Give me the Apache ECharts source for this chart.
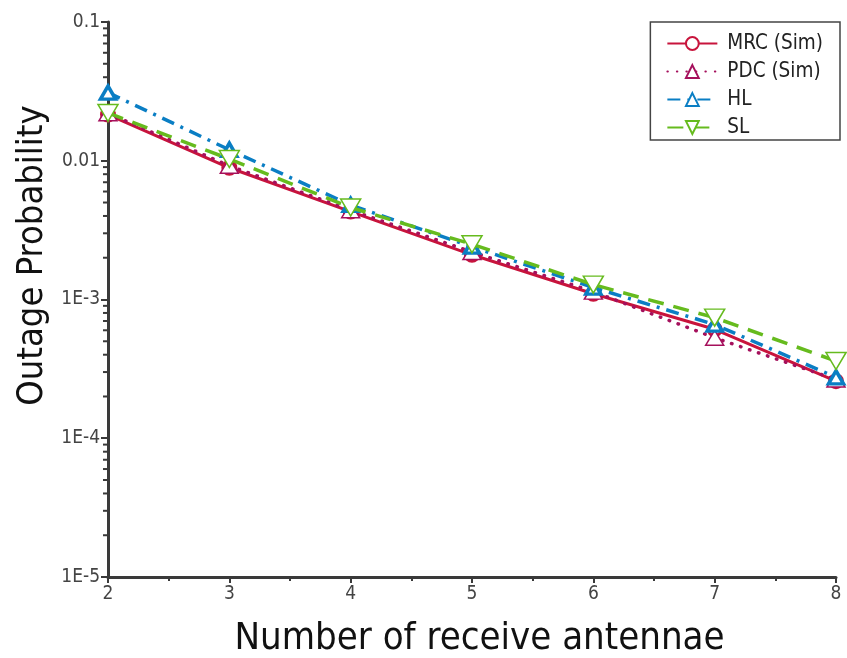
<!DOCTYPE html>
<html>
<head>
<meta charset="utf-8">
<script src="https://cdn.jsdelivr.net/npm/echarts@6/dist/echarts.min.js"></script>
<style>
  html, body { margin: 0; padding: 0; background: #fff; }
  #chart { width: 847px; height: 658px; }
</style>
</head>
<body>
<div id="chart"></div>
<script>
// Number of receive antennae
const antennas = [2, 3, 4, 5, 6, 7, 8];

// Outage probability per scheme
const mrcSim = [0.0215, 0.0089, 0.0043, 0.0021, 0.00110, 0.00061, 0.000258];
const pdcSim = [0.0220, 0.0092, 0.0044, 0.0022, 0.00114, 0.00053, 0.000265];
const hlBound = [0.0310, 0.0120, 0.0048, 0.0024, 0.00122, 0.00066, 0.000275];
const slBound = [0.0221, 0.0103, 0.0046, 0.00250, 0.00128, 0.00074, 0.000360];

const seriesNames = ['MRC (Sim)', 'PDC (Sim)', 'HL', 'SL'];

const FONT = "'DejaVu Sans Condensed', 'Liberation Sans', sans-serif";
const AXIS_COLOR = '#3a3a3a';

function pairs(ys) {
  return antennas.map((x, i) => [x, ys[i]]);
}

const chart = echarts.init(document.getElementById('chart'), null, { renderer: 'canvas' });

const option = {
  animation: false,
  backgroundColor: '#fff',
  grid: { left: 108, right: 11, top: 22, bottom: 81, containLabel: false, outerBoundsMode: 'none' },
  legend: {
    orient: 'vertical',
    right: 7,
    top: 22,
    itemWidth: 50,
    itemHeight: 16,
    itemGap: 7,
    padding: [11, 17, 2, 16],
    borderColor: '#444',
    borderWidth: 1.5,
    backgroundColor: '#fff',
    textStyle: { fontFamily: FONT, fontSize: 20.5, lineHeight: 19, color: '#222', padding: [0, 0, 0, 5] },
    data: seriesNames
  },
  xAxis: {
    type: 'value',
    min: 2,
    max: 8,
    interval: 1,
    name: 'Number of receive antennae',
    nameLocation: 'middle',
    nameGap: 43,
    nameTextStyle: { fontFamily: FONT, fontSize: 38, color: '#111', padding: [0, 0, 0, 15] },
    axisLine: { onZero: false, lineStyle: { color: AXIS_COLOR, width: 3 } },
    axisTick: { inside: false, length: 6, lineStyle: { color: AXIS_COLOR, width: 2 } },
    minorTick: { show: true, splitNumber: 2, length: 4, lineStyle: { color: AXIS_COLOR, width: 2 } },
    axisLabel: { fontFamily: FONT, fontSize: 19, color: '#444', margin: 8 },
    splitLine: { show: false }
  },
  yAxis: {
    type: 'log',
    logBase: 10,
    min: 1e-5,
    max: 0.1,
    name: 'Outage Probability',
    nameLocation: 'middle',
    nameGap: 54,
    nameTextStyle: { fontFamily: FONT, fontSize: 36, color: '#111', padding: [0, 0, 0, 88] },
    axisLine: { lineStyle: { color: AXIS_COLOR, width: 3 } },
    axisTick: { inside: false, length: 7, lineStyle: { color: AXIS_COLOR, width: 2 } },
    axisLabel: {
      fontFamily: FONT, fontSize: 19, color: '#444', margin: 8,
      formatter: function (v) {
        const e = Math.round(Math.log10(v));
        if (e === -1) return '0.1';
        if (e === -2) return '0.01';
        return '1E' + e;
      }
    },
    splitLine: { show: false }
  },
  series: [
    {
      name: 'MRC (Sim)',
      type: 'line',
      data: pairs(mrcSim),
      symbol: 'circle',
      symbolSize: 13,
      lineStyle: { color: '#c8143c', width: 3 },
      itemStyle: { color: '#fff', borderColor: '#c8143c', borderWidth: 3 },
      z: 2
    },
    {
      name: 'PDC (Sim)',
      type: 'line',
      data: pairs(pdcSim),
      symbol: 'triangle',
      symbolSize: [18, 15],
      lineStyle: { color: '#a5105c', width: 3.5, type: [0.5, 9], cap: 'round' },
      itemStyle: { color: '#fff', borderColor: '#a5105c', borderWidth: 1.5 },
      z: 3
    },
    {
      name: 'HL',
      type: 'line',
      data: pairs(hlBound),
      symbol: 'triangle',
      symbolSize: [15, 13],
      lineStyle: { color: '#0a7ec4', width: 3.5, type: [13, 7, 3, 7] },
      itemStyle: { color: '#fff', borderColor: '#0a7ec4', borderWidth: 3.5 },
      z: 4
    },
    {
      name: 'SL',
      type: 'line',
      data: pairs(slBound),
      symbol: 'path://M0,0 L20,0 L10,18 Z',
      symbolSize: [20, 17],
      lineStyle: { color: '#66bb1e', width: 3.5, type: [16, 10] },
      itemStyle: { color: '#fff', borderColor: '#66bb1e', borderWidth: 1.5 },
      z: 5
    }
  ]
};

chart.setOption(option);

// Logarithmic minor ticks (2..9 within each decade) on the y axis
const minorTicks = [];
const axisX = chart.convertToPixel({ xAxisIndex: 0 }, 2);
for (let d = -5; d <= -2; d++) {
  for (let k = 2; k <= 9; k++) {
    const v = k * Math.pow(10, d);
    const py = chart.convertToPixel({ yAxisIndex: 0 }, v);
    minorTicks.push({
      type: 'line',
      shape: { x1: axisX - 1, y1: py, x2: axisX - 5, y2: py },
      style: { stroke: AXIS_COLOR, lineWidth: 2 },
      silent: true
    });
  }
}
chart.setOption({ graphic: minorTicks });
</script>
</body>
</html>
